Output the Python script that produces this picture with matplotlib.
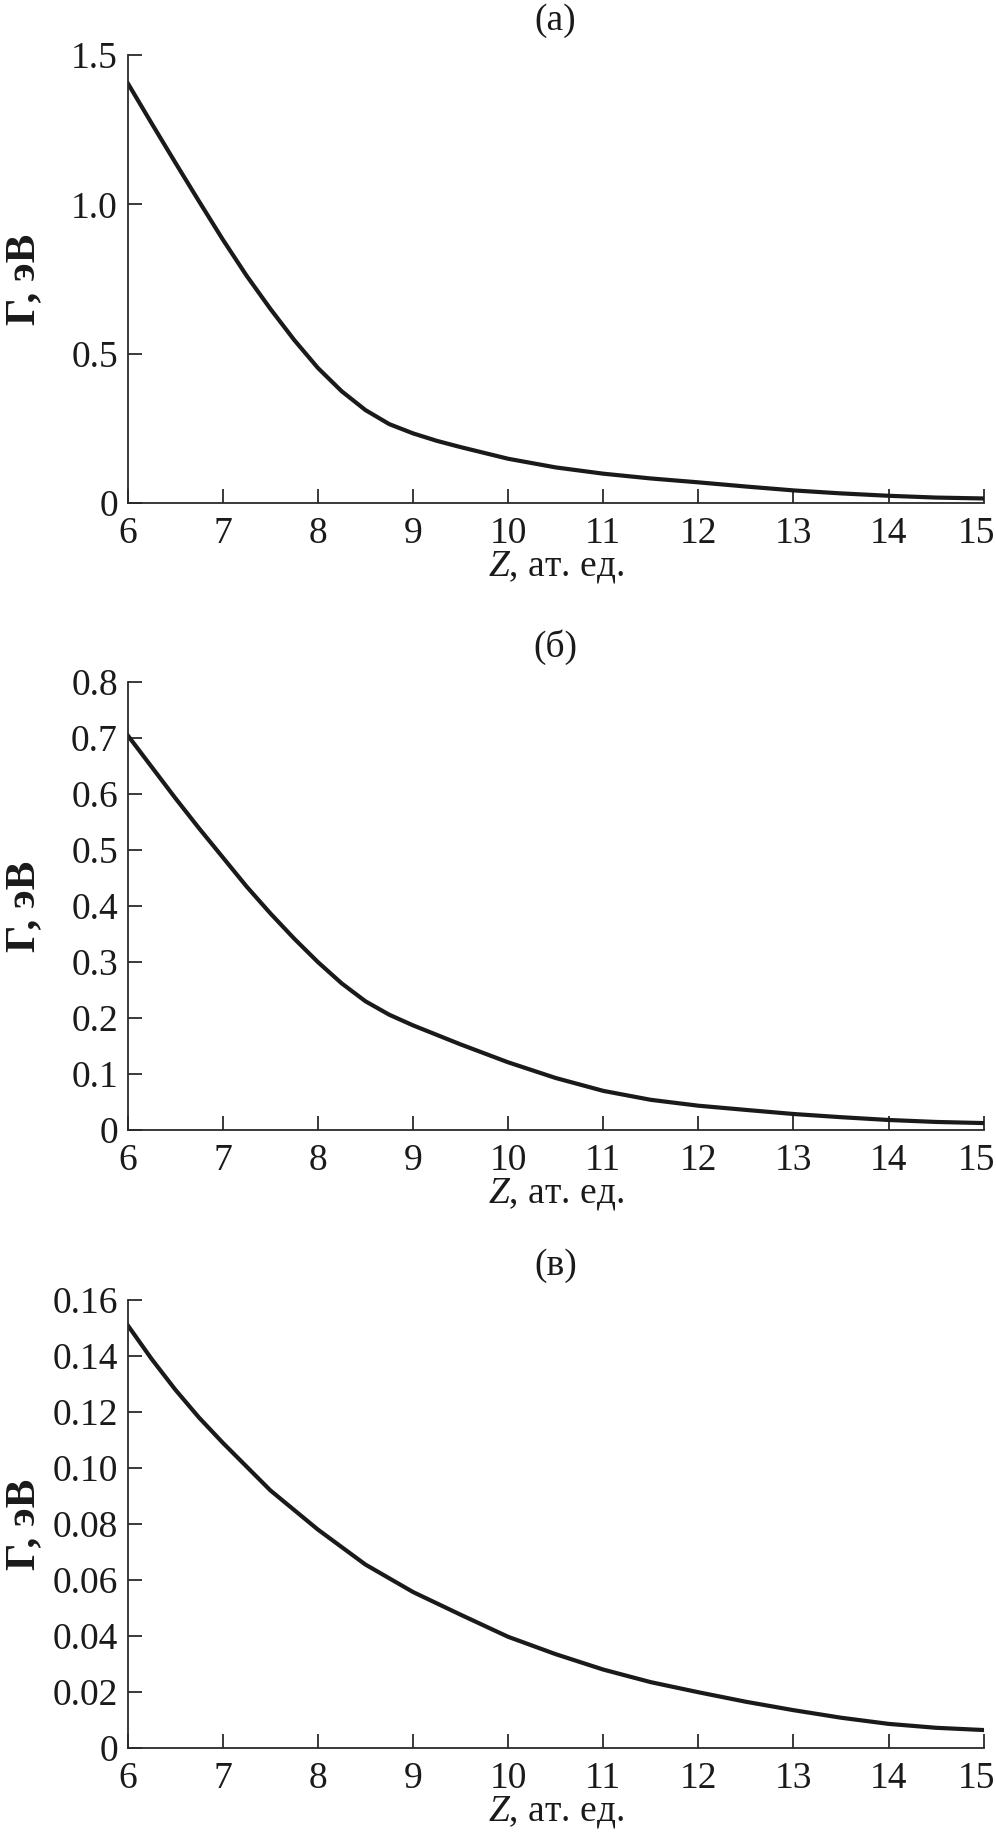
import matplotlib
matplotlib.use('Agg')
import matplotlib.pyplot as plt
import matplotlib.transforms as mtransforms

# data (Z in at. units, Gamma in eV)
za = [6, 6.25, 6.5, 6.75, 7, 7.25, 7.5, 7.75, 8, 8.25, 8.5, 8.75, 9, 9.25, 9.5, 10, 10.5, 11, 11.5, 12, 12.5, 13, 13.5, 14, 14.5, 15]
ga = [1.406, 1.272, 1.14, 1.01, 0.882, 0.761, 0.65, 0.546, 0.452, 0.374, 0.311, 0.264, 0.233, 0.208, 0.187, 0.148, 0.119, 0.098, 0.082, 0.069, 0.055, 0.042, 0.032, 0.024, 0.018, 0.015]

zb = [6, 6.25, 6.5, 6.75, 7, 7.25, 7.5, 7.75, 8, 8.25, 8.5, 8.75, 9, 9.5, 10, 10.5, 11, 11.5, 12, 12.5, 13, 13.5, 14, 14.5, 15]
gb = [0.705, 0.649, 0.593, 0.539, 0.487, 0.435, 0.387, 0.342, 0.300, 0.262, 0.230, 0.206, 0.187, 0.153, 0.121, 0.093, 0.070, 0.054, 0.0435, 0.036, 0.0287, 0.023, 0.018, 0.0145, 0.0125]

zc = [6, 6.25, 6.5, 6.75, 7, 7.25, 7.5, 7.75, 8, 8.5, 9, 9.5, 10, 10.5, 11, 11.5, 12, 12.5, 13, 13.5, 14, 14.5, 15]
gc = [0.151, 0.139, 0.128, 0.118, 0.109, 0.1005, 0.092, 0.085, 0.078, 0.0655, 0.0557, 0.0476, 0.0397, 0.0335, 0.028, 0.0235, 0.0199, 0.0165, 0.0135, 0.0108, 0.0086, 0.0072, 0.0064]

xticks = list(range(6, 16))
yt_a = [0, 0.5, 1.0, 1.5]; yl_a = ['0', '0.5', '1.0', '1.5']
yt_b = [0, 0.1, 0.2, 0.3, 0.4, 0.5, 0.6, 0.7, 0.8]; yl_b = ['0', '0.1', '0.2', '0.3', '0.4', '0.5', '0.6', '0.7', '0.8']
yt_c = [0, 0.02, 0.04, 0.06, 0.08, 0.10, 0.12, 0.14, 0.16]; yl_c = ['0', '0.02', '0.04', '0.06', '0.08', '0.10', '0.12', '0.14', '0.16']
titles = ['(а)', '(б)', '(в)']

plt.rcParams['font.family'] = ['Liberation Serif', 'DejaVu Serif']
plt.rcParams['mathtext.fontset'] = 'custom'
plt.rcParams['mathtext.rm'] = 'Liberation Serif'
plt.rcParams['mathtext.it'] = 'Liberation Serif:italic'
FS = 27
INK = '#1a1a1a'

fig = plt.figure(figsize=(9.96, 18.45), dpi=100)
bottoms = [0.7274, 0.3875, 0.0526]
panels = [(za, ga, yt_a, yl_a), (zb, gb, yt_b, yl_b), (zc, gc, yt_c, yl_c)]
for (z, g, yt, yl), b, t in zip(panels, bottoms, titles):
    ax = fig.add_axes([0.1282, b, 0.8594, 0.2428])
    ax.plot(z, g, color=INK, lw=3.0, solid_joinstyle='round')
    ax.set_xlim(6, 15); ax.set_ylim(yt[0], yt[-1])
    ax.set_xticks(xticks); ax.set_xticklabels([str(v) for v in xticks])
    ax.set_yticks(yt); ax.set_yticklabels(yl)
    for s in ['top', 'right']: ax.spines[s].set_visible(False)
    for s in ['left', 'bottom']: ax.spines[s].set_linewidth(1.3); ax.spines[s].set_color('#2a2a2a')
    ax.tick_params(direction='in', length=10, width=1.3, color='#2a2a2a', labelcolor=INK, labelsize=FS)
    ax.tick_params(axis='x', pad=10)
    ax.tick_params(axis='y', pad=7)
    # last x label sits a little left of its tick, as in the source figure
    lab = ax.get_xticklabels()[-1]
    lab.set_transform(lab.get_transform() + mtransforms.ScaledTranslation(-7 / 100, 0, fig.dpi_scale_trans))
    ax.set_xlabel(r'$Z$, ат. ед.', fontsize=FS, labelpad=-2, color=INK)
    ax.set_ylabel('Г, эВ', fontsize=31, fontweight='bold', color=INK)
    ax.yaxis.set_label_coords(-0.099, 0.5)
    ax.set_title(t, fontsize=FS, pad=18, color=INK)

fig.savefig('out.png', dpi=100)
